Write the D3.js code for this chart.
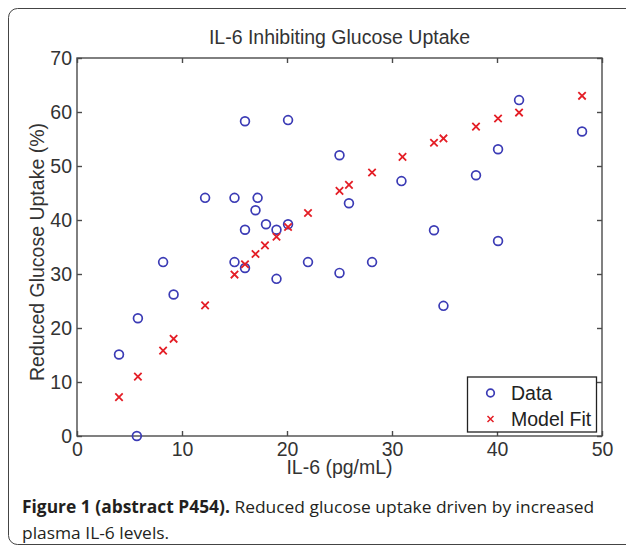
<!DOCTYPE html>
<html><head><meta charset="utf-8">
<script src="https://cdn.jsdelivr.net/npm/d3@7"></script>
<style>body{margin:0;background:#fff}svg{display:block}</style>
</head><body>
<script>
// Data
const dataX = [4, 5.8, 5.7, 8.2, 9.2, 12.2, 15, 15, 16, 16, 16, 17.2, 17, 18, 19, 19, 20.1, 20.1, 22, 25, 25, 25.9, 28.1, 30.9, 34, 34.9, 38, 40.1, 40.1, 42.1, 48.1];
const dataY = [15.1, 21.8, 0, 32.2, 26.2, 44.1, 44.1, 32.2, 31.1, 38.2, 58.3, 44.1, 41.8, 39.2, 38.2, 29.1, 39.2, 58.5, 32.2, 52, 30.2, 43.1, 32.2, 47.2, 38.1, 24.1, 48.3, 53.1, 36.1, 62.2, 56.4];
const fitX = [4, 5.8, 8.2, 9.2, 12.2, 15, 16, 17, 17.9, 19, 20.1, 22, 25, 25.9, 28.1, 31, 34, 34.9, 38, 40.1, 42.1, 48.1];
const fitY = [7.2, 11, 15.8, 18, 24.2, 29.9, 31.8, 33.7, 35.3, 36.9, 38.7, 41.3, 45.4, 46.5, 48.8, 51.7, 54.3, 55.1, 57.3, 58.8, 59.9, 63.0];
const xTicks = [0, 10, 20, 30, 40, 50];
const yTicks = [0, 10, 20, 30, 40, 50, 60, 70];
const legendLabels = ["Data", "Model Fit"];

const W = 626, H = 550;
const svg = d3.select("body").append("svg").attr("width", W).attr("height", H);

// Figure frame (rounded, open to the right)
svg.append("rect").attr("x", 8.5).attr("y", 8.5).attr("width", 640).attr("height", 536)
  .attr("rx", 9).attr("fill", "none").attr("stroke", "#444").attr("stroke-width", 1);

const L = 77, R = 602, T = 58, B = 436;
const x = d3.scaleLinear().domain([0, 50]).range([L, R]);
const y = d3.scaleLinear().domain([0, 70]).range([B, T]);
const axisColor = "#4a4a4a";
const tickFont = "'Liberation Sans', Arial, sans-serif";
const fs = 19.5;

// plot box
svg.append("rect").attr("x", L).attr("y", T).attr("width", R - L).attr("height", B - T)
  .attr("fill", "#fff").attr("stroke", axisColor).attr("stroke-width", 1.4);

function styleAxis(g) {
  g.select(".domain").remove();
  g.selectAll(".tick line").attr("stroke", axisColor).attr("stroke-width", 1.4);
  g.selectAll(".tick text").attr("fill", "#333").attr("font-size", fs).attr("font-family", tickFont);
}
svg.append("g").attr("transform", `translate(0,${B})`)
  .call(d3.axisBottom(x).tickValues(xTicks).tickSize(-5).tickPadding(6)).call(styleAxis);
svg.append("g").attr("transform", `translate(0,${T})`)
  .call(d3.axisTop(x).tickValues(xTicks).tickSize(-5).tickFormat("")).call(styleAxis);
svg.append("g").attr("transform", `translate(${L},0)`)
  .call(d3.axisLeft(y).tickValues(yTicks).tickSize(-5).tickPadding(5)).call(styleAxis);
svg.append("g").attr("transform", `translate(${R},0)`)
  .call(d3.axisRight(y).tickValues(yTicks).tickSize(-5).tickFormat("")).call(styleAxis);

// Title and axis labels
svg.append("text").attr("x", (L + R) / 2).attr("y", 44).attr("text-anchor", "middle")
  .attr("font-family", tickFont).attr("font-size", fs).attr("fill", "#333")
  .text("IL-6 Inhibiting Glucose Uptake");
svg.append("text").attr("x", (L + R) / 2).attr("y", 474).attr("text-anchor", "middle")
  .attr("font-family", tickFont).attr("font-size", fs).attr("fill", "#333")
  .text("IL-6 (pg/mL)");
svg.append("text").attr("transform", `translate(44,252) rotate(-90)`).attr("text-anchor", "middle")
  .attr("font-family", tickFont).attr("font-size", fs).attr("fill", "#333")
  .text("Reduced Glucose Uptake (%)");

const blue = "#3b3bb5", red = "#e41e26";
const plot = svg.append("g");
// data circles
plot.selectAll("circle.d").data(dataX.map((v, i) => [v, dataY[i]])).join("circle")
  .attr("class", "d").attr("cx", d => x(d[0])).attr("cy", d => y(d[1])).attr("r", 4.4)
  .attr("fill", "none").attr("stroke", blue).attr("stroke-width", 1.7);
// fit crosses
const cs = 3.7;
const crossPath = (cx, cy) => `M${cx - cs},${cy - cs}L${cx + cs},${cy + cs}M${cx - cs},${cy + cs}L${cx + cs},${cy - cs}`;
plot.selectAll("path.f").data(fitX.map((v, i) => [v, fitY[i]])).join("path")
  .attr("class", "f").attr("d", d => crossPath(x(d[0]), y(d[1])))
  .attr("stroke", red).attr("stroke-width", 1.8).attr("fill", "none");

// Legend
const lg = svg.append("g");
lg.append("rect").attr("x", 467.5).attr("y", 377).attr("width", 129).attr("height", 55)
  .attr("fill", "#fff").attr("stroke", "#222").attr("stroke-width", 1.3);
lg.append("circle").attr("cx", 490.5).attr("cy", 393).attr("r", 3.8).attr("fill", "none")
  .attr("stroke", blue).attr("stroke-width", 1.7);
lg.append("path").attr("d", `M487.5,416L493.5,422M487.5,422L493.5,416`).attr("stroke", red).attr("stroke-width", 1.5);
lg.selectAll("text").data(legendLabels).join("text")
  .attr("x", 511).attr("y", (d, i) => 400 + i * 26)
  .attr("font-family", tickFont).attr("font-size", fs).attr("fill", "#222").text(d => d);

// Caption (condensed horizontally to match the original typeface width)
const capFont = "'Open Sans', 'Noto Sans', sans-serif";
const capG = svg.append("g");
const cap = capG.append("text").attr("x", 0).attr("y", 0)
  .attr("font-family", capFont).attr("font-size", 17).attr("fill", "#231f20");
cap.append("tspan").attr("font-weight", "bold").text("Figure 1 (abstract P454).");
cap.append("tspan").text(" Reduced glucose uptake driven by increased");
capG.append("text").attr("x", 0).attr("y", 26)
  .attr("font-family", capFont).attr("font-size", 17).attr("fill", "#231f20")
  .text("plasma IL-6 levels.");
const natural = cap.node().getComputedTextLength();
const sx = 573 / natural;
capG.attr("transform", `translate(22,513) scale(${sx},1)`);
</script>
</body></html>
